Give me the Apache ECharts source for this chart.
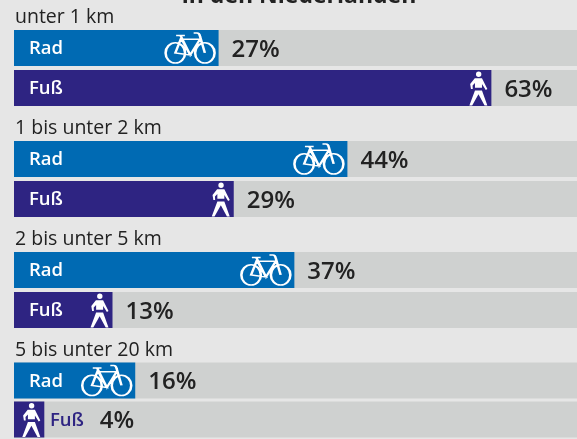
<!DOCTYPE html>
<html><head><meta charset="utf-8">
<style>html,body{margin:0;padding:0;background:#e6e6e6}#c{width:577px;height:439px}</style>
<script src="https://cdn.jsdelivr.net/npm/echarts@6/dist/echarts.min.js"></script>
</head><body><div id="c"></div>
<script>
const headline = 'in den Niederlanden';
const groups = ['unter 1 km', '1 bis unter 2 km', '2 bis unter 5 km', '5 bis unter 20 km'];
const modes = ['Rad', 'Fuß'];
const rad = [27, 44, 37, 16];
const fuss = [63, 29, 13, 4];
const axisMax = 74.3;

const FONT = '"Open Sans", sans-serif';
const BLUE = '#006ab3', PURPLE = '#2e2482', TRACK = '#cfd1d0', INK = '#222222';
const bike = 'path://M0.7 20.5a10 10 0 1 0 20 0a10 10 0 1 0 -20 0Z M31 20.5a10 10 0 1 0 20 0a10 10 0 1 0 -20 0Z M10.7 20.5L16.6 6L26 22.5L10.7 20.5Z M16 3.2L26 22.5L36 7L16.6 7 M11.5 3.2L20.5 3.2 M29.5 0.8L33 0.8Q35.5 0.8 36 4L41 20.5';
const walker = 'path://M6.6 2.7a2.7 2.7 0 1 0 5.4 0a2.7 2.7 0 1 0 -5.4 0Z M5.4 6.8L12.6 6.8L18 17.4L16.4 18.4L12.6 12.6L12.6 16.3L5.6 16.3L5.6 11.6L3.2 14L3.4 17.6L1.6 17.6L0.8 12.5Z M5.6 19L12.6 19L18 34L15.2 34L9.1 22.8L2.8 34L0 34Z';

const option = { backgroundColor: '#e6e6e6', animation: false,
  title: [{ text: headline, left: 299, textAlign: 'center', top: -15, padding: 0,
            textStyle: { fontFamily: FONT, fontSize: 23, fontWeight: 700, color: INK } }],
  grid: [], xAxis: [], yAxis: [], series: [] };

groups.forEach((g, i) => {
  const top = 28 + i * 111;
  const vals = [rad[i], fuss[i]];
  option.title.push({ text: g, left: 15, top: top - 21, padding: 0,
    textStyle: { fontFamily: FONT, fontSize: 19.5, fontWeight: 500, color: INK, lineHeight: 20 } });
  option.grid.push({ left: 14, width: 563, top, height: 80, containLabel: false });
  option.xAxis.push({ gridIndex: i, type: 'value', min: 0, max: axisMax, show: false });
  option.yAxis.push({ gridIndex: i, type: 'category', data: modes, inverse: true, show: false });
  const base = { xAxisIndex: i, yAxisIndex: i, silent: true };
  option.series.push({ ...base, type: 'bar', barWidth: 36, barGap: '-100%', z: 1,
    data: modes.map(() => axisMax), itemStyle: { color: TRACK } });
  option.series.push({ ...base, type: 'bar', barWidth: 36, barGap: '-100%', z: 2,
    data: vals.map((v, r) => {
      const small = v < 6;
      return { value: v, itemStyle: { color: r ? PURPLE : BLUE },
        label: { show: true, position: 'insideLeft', distance: 15, formatter: '{b}',
          offset: small ? [21, 1] : [0, 1], color: small ? PURPLE : '#fff',
          fontFamily: FONT, fontSize: 18.5, fontWeight: 600 } };
    }) });
  option.series.push({ ...base, type: 'scatter', z: 3,
    data: vals.map((v, r) => ({ value: [v, modes[r]],
      symbol: r ? walker : bike,
      symbolSize: r ? [18, 34] : [49, 30],
      symbolOffset: r ? [-13, 0.5] : [-28.5, 0],
      itemStyle: r ? { color: '#fff', opacity: 1 } : { color: 'none', borderColor: '#fff', borderWidth: 2, opacity: 1 } })) });
  option.series.push({ ...base, type: 'scatter', z: 4, symbolSize: 1, itemStyle: { color: 'none', opacity: 1 },
    data: vals.map((v, r) => ({ value: [v, modes[r]],
      label: { show: true, position: 'right', distance: v < 6 ? 55 : 12.5, offset: [0, 2],
        formatter: p => p.value[0] + '%',
        color: INK, fontFamily: FONT, fontSize: 24, fontWeight: 600 } })) });
});
option.series.forEach(s => { s.emphasis = { disabled: true }; });
echarts.init(document.getElementById('c'), null, { renderer: 'canvas' }).setOption(option);
</script></body></html>
